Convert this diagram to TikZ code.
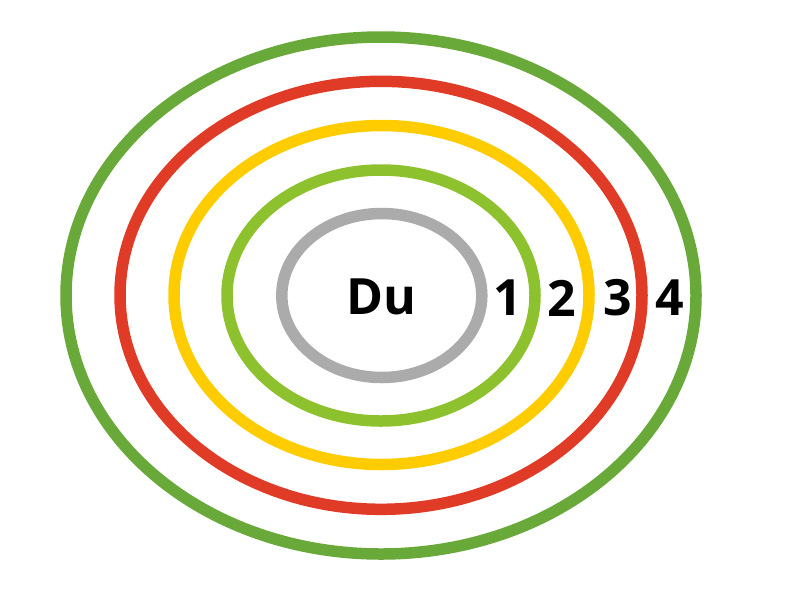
\documentclass[tikz,border=0pt]{standalone}
\usepackage{fontspec}
\setmainfont{Open Sans}
\definecolor{ringouter}{HTML}{68A93A}
\definecolor{ringred}{HTML}{E03B26}
\definecolor{ringyellow}{HTML}{FFCC00}
\definecolor{ringlight}{HTML}{8DC12D}
\definecolor{ringgray}{HTML}{ABABAB}
\begin{document}
\begin{tikzpicture}[x=1pt,y=-1pt,
  ring/.style={line width=11.5pt},
  lbl/.style={font=\fontsize{50}{50}\selectfont\bfseries, text=black, inner sep=0pt}]
\useasboundingbox (0,0) rectangle (786,590);
\draw[ring, ringouter] (381,295.5) ellipse [x radius=315, y radius=258.5];
\draw[ring, ringred] (381,295.3) ellipse [x radius=261, y radius=214];
\draw[ring, ringyellow] (381.5,295) ellipse [x radius=207.5, y radius=169.5];
\draw[ring, ringlight] (381,295.5) ellipse [x radius=154, y radius=125.5];
\draw[ring, ringgray] (381.8,295.5) ellipse [x radius=100, y radius=82];
\node[lbl] (du) at (381,297) {Du};
\node[lbl] (n1) at (508,298) {1};
\node[lbl] (n2) at (561.5,298) {2};
\node[lbl] (n3) at (617.5,298) {3};
\node[lbl] (n4) at (669.5,298) {4};
\end{tikzpicture}
\end{document}
